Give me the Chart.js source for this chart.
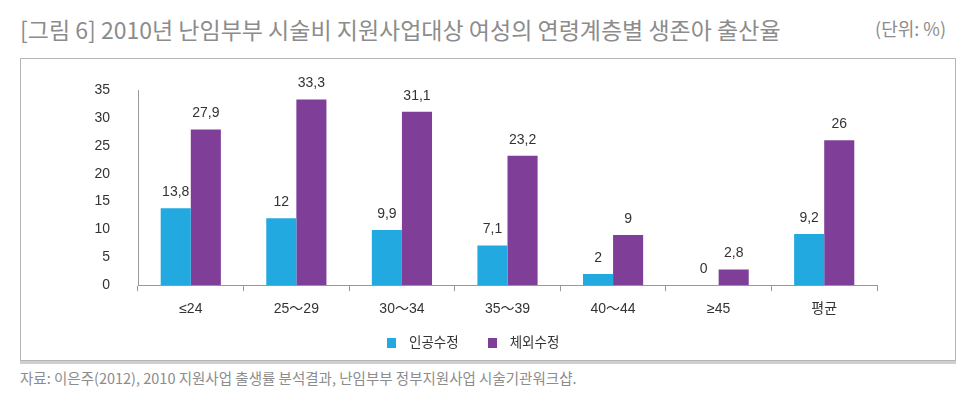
<!DOCTYPE html>
<html>
<head>
<meta charset="utf-8">
<script src="https://cdn.jsdelivr.net/npm/chart.js@4"></script>
<style>
  body { margin: 0; background: #fff; font-family: "Noto Sans CJK KR", sans-serif; }
  #title { position: absolute; left: 20px; top: 12px; font-size: 23px; color: #8c8c8c; white-space: nowrap; }
  #unit { position: absolute; right: 20px; top: 15px; font-size: 18px; color: #8c8c8c; }
  #box { position: absolute; left: 20px; top: 58px; width: 934px; height: 301px; border: 1px solid #b5b5b5; box-shadow: 0 3px 0 #cfcfcf; }
  #legend { position: absolute; left: 366px; top: 272px; font-size: 13.5px; color: #333; white-space: nowrap; line-height: 20px; }
  #legend span.item { display: inline-block; margin-right: 29px; }
  #legend i { display: inline-block; width: 9px; height: 10px; margin-right: 13px; vertical-align: -1px; }
  #source { position: absolute; left: 20px; top: 367px; font-size: 14.5px; color: #8c8c8c; white-space: nowrap; }
</style>
</head>
<body>
<div id="title">[그림 6] 2010년 난임부부 시술비 지원사업대상 여성의 연령계층별 생존아 출산율</div>
<div id="unit">(단위: %)</div>
<div id="box"><canvas id="chart" width="934" height="301"></canvas><div id="legend"></div></div>
<div id="source">자료: 이은주(2012), 2010 지원사업 출생률 분석결과, 난임부부 정부지원사업 시술기관워크샵.</div>
<script>
const ageGroups = ['≤24', '25～29', '30～34', '35～39', '40～44', '≥45', '평균'];
const seriesNames = ['인공수정', '체외수정'];
const artificialInsemination = [13.8, 12, 9.9, 7.1, 2, 0, 9.2];
const ivf = [27.9, 33.3, 31.1, 23.2, 9, 2.8, 26];
const yTicks = [0, 5, 10, 15, 20, 25, 30, 35];
const colors = ['#22a9e0', '#7f3f98'];

// draw value labels above each bar, comma as decimal mark like the original
const valueLabels = {
  id: 'valueLabels',
  afterDatasetsDraw(chart) {
    const ctx = chart.ctx;
    ctx.save();
    ctx.font = '14px "Liberation Sans", Arial, sans-serif';
    ctx.fillStyle = '#333';
    ctx.textAlign = 'center';
    ctx.textBaseline = 'middle';
    chart.data.datasets.forEach((ds, i) => {
      chart.getDatasetMeta(i).data.forEach((bar, j) => {
        const txt = String(ds.data[j]).replace('.', ',');
        ctx.fillText(txt, bar.x, bar.y - 16);
      });
    });
    ctx.restore();
  }
};

const ctx = document.getElementById('chart').getContext('2d');
const chart = new Chart(ctx, {
  type: 'bar',
  data: {
    labels: ageGroups,
    datasets: [
      {
        label: seriesNames[0],
        data: artificialInsemination,
        backgroundColor: colors[0],
        categoryPercentage: 0.57,
        barPercentage: 1
      },
      {
        label: seriesNames[1],
        data: ivf,
        backgroundColor: colors[1],
        categoryPercentage: 0.57,
        barPercentage: 1
      }
    ]
  },
  options: {
    responsive: false,
    animation: false,
    layout: { padding: { left: 60, right: 78, top: 31, bottom: 32 } },
    scales: {
      x: {
        grid: { drawOnChartArea: false, color: '#999', tickLength: 6, offset: true },
        border: { color: '#999' },
        ticks: { color: '#333', font: { size: 14, family: '"Liberation Sans", "Noto Sans CJK KR", sans-serif' }, padding: 10 }
      },
      y: {
        min: 0,
        max: 35,
        afterBuildTicks: (axis) => { axis.ticks = yTicks.map(v => ({ value: v })); },
        afterFit: (axis) => { axis.width = 57; },
        grid: { display: false },
        border: { color: '#999' },
        ticks: { color: '#333', padding: 20, font: { size: 14, family: '"Liberation Sans", Arial, sans-serif' } }
      }
    },
    plugins: {
      legend: { display: false },
      tooltip: { enabled: false }
    }
  },
  plugins: [valueLabels]
});

// legend below the axis, built from the datasets
document.getElementById('legend').innerHTML = chart.data.datasets
  .map(ds => `<span class="item"><i style="background:${ds.backgroundColor}"></i>${ds.label}</span>`)
  .join('');
</script>
</body>
</html>
